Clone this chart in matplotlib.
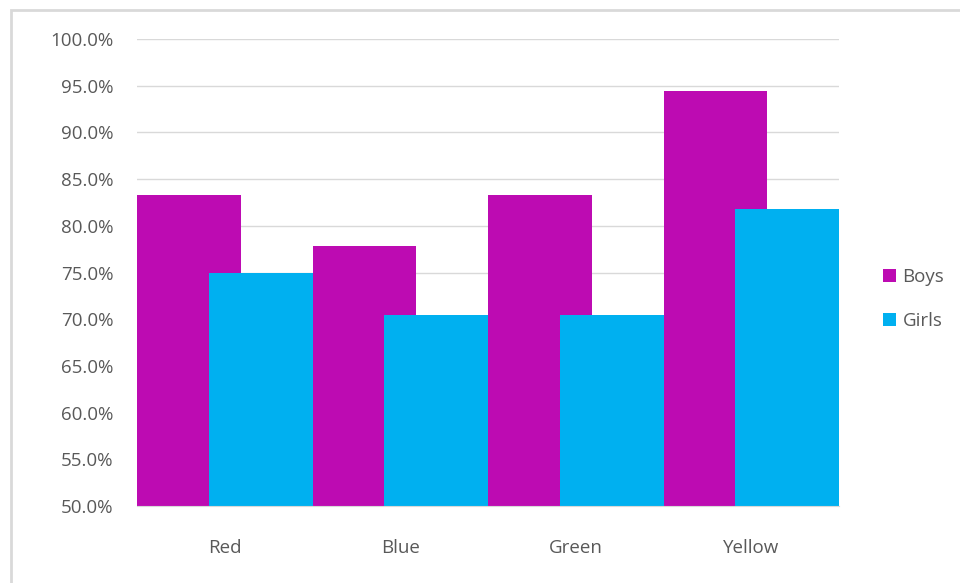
import matplotlib.pyplot as plt
from matplotlib.patches import Rectangle, Patch
from matplotlib.ticker import PercentFormatter
import numpy as np

#----------------------------- chart data -----------------------------
categories = ["Red", "Blue", "Green", "Yellow"]
boys = [83.3, 77.8, 83.3, 94.4]
girls = [75.0, 70.4, 70.4, 81.8]
series_names = ["Boys", "Girls"]

BOYS_COLOR = "#BD0BB2"
GIRLS_COLOR = "#00B0F0"
TEXT_COLOR = "#595959"
GRID_COLOR = "#D9D9D9"

plt.rcParams["font.family"] = ["Open Sans", "DejaVu Sans"]

#----------------------------- figure -----------------------------
W, H = 960, 583
fig = plt.figure(figsize=(W / 100, H / 100), dpi=100)
ax = fig.add_axes([137 / W, 1 - 506 / H, (839 - 137) / W, (506 - 39) / H])

x = np.arange(len(categories))
bar_w = 0.59
# overlapping bars like the excel chart, girls drawn on top
ax.bar(x - 0.5, boys, width=bar_w, align="edge", color=BOYS_COLOR, zorder=2)
ax.bar(x + 0.5 - bar_w, girls, width=bar_w, align="edge", color=GIRLS_COLOR, zorder=3)

ax.set_xlim(-0.5, len(categories) - 0.5)
ax.set_ylim(50, 100)
ax.set_yticks(np.arange(50, 100.1, 5))
ax.yaxis.set_major_formatter(PercentFormatter(decimals=1))
ax.set_xticks(x)
ax.set_xticklabels(categories)

ax.grid(axis="y", color=GRID_COLOR, linewidth=1, zorder=0)
ax.set_axisbelow(True)
for side in ["top", "right", "left"]:
    ax.spines[side].set_visible(False)
ax.spines["bottom"].set_color(GRID_COLOR)
ax.spines["bottom"].set_zorder(4)
ax.tick_params(axis="both", length=0, colors=TEXT_COLOR, labelsize=13.5)
ax.tick_params(axis="y", pad=17)
ax.tick_params(axis="x", pad=24)

#----------------------------- legend -----------------------------
handles = [Patch(facecolor=BOYS_COLOR), Patch(facecolor=GIRLS_COLOR)]
leg = fig.legend(handles, series_names, loc="center left",
                 bbox_to_anchor=(866 / W, 1 - 299 / H), frameon=False,
                 fontsize=13.5, labelcolor=TEXT_COLOR, handlelength=0.7,
                 handleheight=0.7, handletextpad=0.35, labelspacing=1.35)

#----------------------------- outer border -----------------------------
fig.patches.append(Rectangle((11 / W, -0.05), 1.1, 1 - 10 / H + 0.05,
                             transform=fig.transFigure, fill=False,
                             edgecolor="#D9D9D9", linewidth=2))

fig.savefig("out.png", dpi=100)
